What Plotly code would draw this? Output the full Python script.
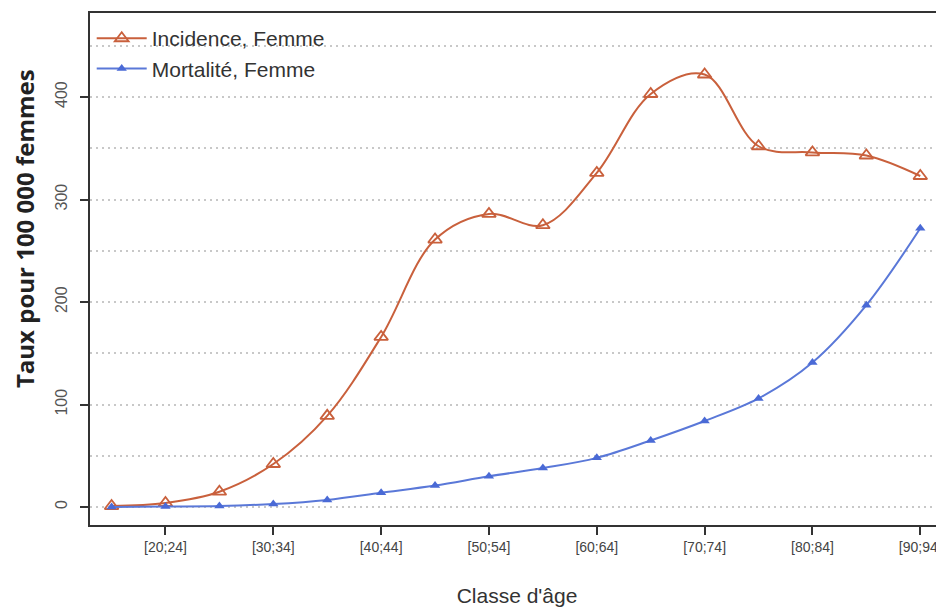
import plotly.graph_objects as go

categories = ["[15;19]", "[20;24]", "[25;29]", "[30;34]", "[35;39]", "[40;44]", "[45;49]",
              "[50;54]", "[55;59]", "[60;64]", "[65;69]", "[70;74]", "[75;79]", "[80;84]",
              "[85;89]", "[90;94]"]
incidence = [1, 4, 15, 42, 89, 166, 261, 286, 275, 326, 403, 422, 352, 346, 343, 323]
mortalite = [0, 0.5, 1, 3, 7, 14, 21, 30, 38, 48, 65, 84, 106, 141, 197, 272]
tick_labels = categories[1::2]

fig = go.Figure()
fig.add_trace(go.Scatter(
    x=categories, y=incidence, name="Incidence, Femme", mode="lines+markers",
    line=dict(color="#C9603C", width=2, shape="spline", smoothing=1.0),
    marker=dict(symbol="triangle-up-open", size=12, color="#C9603C", line=dict(width=1.8)),
))
fig.add_trace(go.Scatter(
    x=categories, y=mortalite, name="Mortalité, Femme", mode="lines+markers",
    line=dict(color="#5A78D8", width=2, shape="spline", smoothing=1.0),
    marker=dict(symbol="triangle-up", size=9, color="#4A6AD6"),
))

grid_style = dict(gridcolor="#c8c8c8", griddash="2px,4px", gridwidth=1.6)

fig.update_layout(
    width=936, height=605,
    margin=dict(l=82, r=0, t=5, b=88),
    paper_bgcolor="white", plot_bgcolor="white",
    font=dict(family="Liberation Sans, Arial, sans-serif", color="#333"),
    showlegend=True,
    legend=dict(x=0.002, y=0.99, xanchor="left", yanchor="top",
                bgcolor="rgba(0,0,0,0)", font=dict(size=21, color="#333"),
                itemwidth=50, tracegroupgap=0),
    xaxis=dict(
        type="category", categoryorder="array", categoryarray=categories,
        range=[-0.4, 15.44], automargin=False,
        tickvals=tick_labels, ticktext=tick_labels,
        tickfont=dict(size=14, color="#444"),
        ticks="outside", ticklen=8, tickwidth=2, tickcolor="#333",
        showline=True, linecolor="#333", linewidth=2, mirror=True,
        showgrid=False, zeroline=False,
        title=dict(text="Classe d'âge", font=dict(size=21, color="#333"), standoff=35),
    ),
    yaxis=dict(
        range=[-17.5, 482], automargin=False,
        tickvals=[0, 100, 200, 300, 400],
        tickangle=-90,
        tickfont=dict(size=16, color="#555"),
        ticks="outside", ticklen=8, tickwidth=2, tickcolor="#333",
        ticklabelstandoff=7,
        showline=True, linecolor="#333", linewidth=2, mirror=False,
        showgrid=True, **grid_style,
        minor=dict(dtick=50, tick0=0, showgrid=True, **grid_style),
        zeroline=False,
    ),
    annotations=[dict(
        text="<b>Taux pour 100 000 femmes</b>", textangle=-90,
        xref="paper", yref="paper", x=0, y=0.578, xanchor="center", yanchor="middle",
        xshift=-66, showarrow=False,
        font=dict(family="Open Sans, Liberation Sans, sans-serif", size=24, color="#222"),
    )],
)

fig.write_html("out.html")
